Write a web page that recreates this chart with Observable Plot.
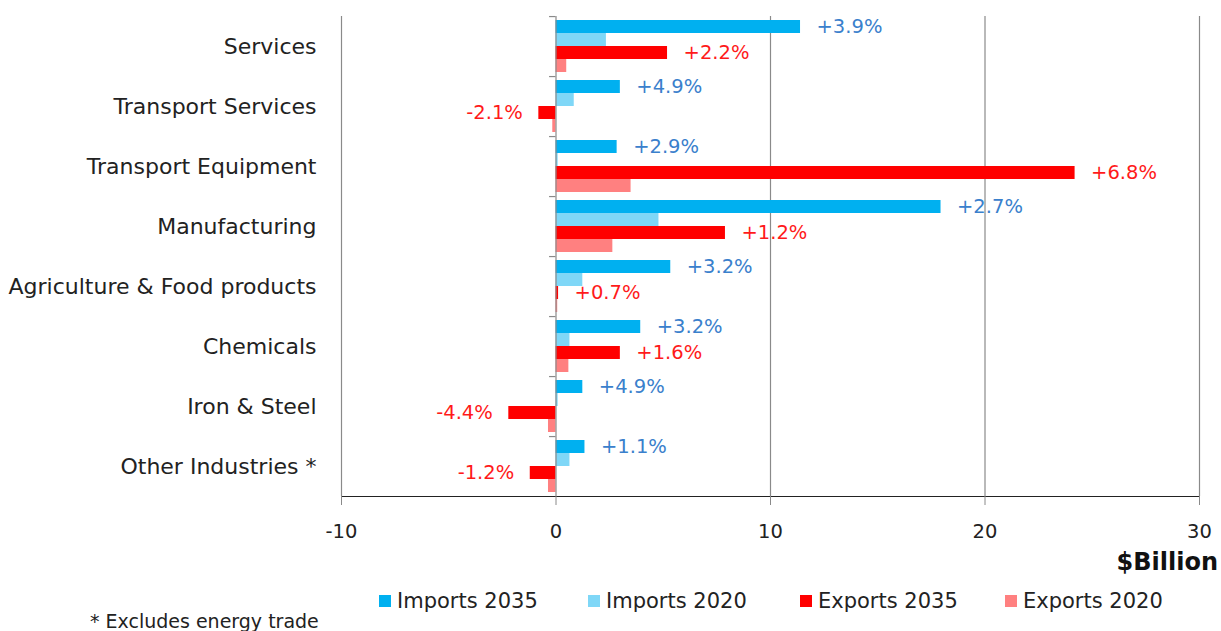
<!DOCTYPE html>
<html>
<head>
<meta charset="utf-8">
<script src="https://cdn.jsdelivr.net/npm/d3@7"></script>
<script src="https://cdn.jsdelivr.net/npm/@observablehq/plot@0.6"></script>
<style>
  body { margin: 0; background: #fff; font-family: "DejaVu Sans", sans-serif; }
  #wrap { position: relative; width: 1221px; height: 631px; }
  #unit { position: absolute; right: 3px; top: 548px; font-weight: bold; font-size: 24px; color: #111; }
  #legend { display: flex; margin-left: 379px; margin-top: 10px; height: 22px; align-items: center; font-size: 21px; color: #222; }
  .item { display: flex; align-items: center; }
  .sw { width: 12px; height: 12px; margin-right: 6px; flex: none; }
  #caption { margin-left: 90px; margin-top: 0px; height: 20px; line-height: 18px; font-size: 19px; color: #222; }
</style>
</head>
<body>
<div id="wrap">
  <div id="chart"></div>
  <div id="unit">$Billion</div>
  <div id="legend"></div>
  <div id="caption">* Excludes energy trade</div>
</div>
<script>
const categories = ["Services", "Transport Services", "Transport Equipment", "Manufacturing",
  "Agriculture & Food products", "Chemicals", "Iron & Steel", "Other Industries *"];
const seriesNames = ["Imports 2035", "Imports 2020", "Exports 2035", "Exports 2020"];
const seriesColors = ["#00B0F0", "#7FD7F7", "#FF0000", "#FF8080"];
const imports2035 = [11.4, 3.0, 2.85, 17.95, 5.35, 3.95, 1.25, 1.35];
const imports2020 = [2.35, 0.85, 0.1, 4.8, 1.25, 0.65, 0.1, 0.65];
const exports2035 = [5.2, -0.8, 24.2, 7.9, 0.12, 3.0, -2.2, -1.2];
const exports2020 = [0.5, -0.15, 3.5, 2.65, 0.08, 0.6, -0.35, -0.35];
const importGrowth = ["+3.9%", "+4.9%", "+2.9%", "+2.7%", "+3.2%", "+3.2%", "+4.9%", "+1.1%"];
const exportGrowth = ["+2.2%", "-2.1%", "+6.8%", "+1.2%", "+0.7%", "+1.6%", "-4.4%", "-1.2%"];
const xTicks = [-10, 0, 10, 20, 30];
const legendWidths = [209, 212, 205, 200];

const seriesValues = [imports2035, imports2020, exports2035, exports2020];
const rows = categories.flatMap((c, i) => seriesNames.map((s, j) => ({category: c, series: s, value: seriesValues[j][i]})));
const growthRows = categories.flatMap((c, i) => [
  {category: c, series: seriesNames[0], value: imports2035[i], label: importGrowth[i], kind: "imp"},
  {category: c, series: seriesNames[2], value: exports2035[i], label: exportGrowth[i], kind: "exp"}
]);

const marginTop = 16, marginBottom = 84, height = 580;
const facetH = (height - marginTop - marginBottom) / categories.length;
const padOuter = 0.3;
const step = facetH / (seriesNames.length + 2 * padOuter);
const tickDy = -(padOuter * step + step / 2);
const grid = "#8a8a8a";
const blueText = "#3A80CC", redText = "#FF1A1A";

const chart = Plot.plot({
  width: 1221,
  height,
  marginTop,
  marginBottom,
  marginLeft: 341,
  marginRight: 22,
  style: {fontFamily: "'DejaVu Sans', sans-serif", fontSize: "19.5px", color: "#222", background: "#fff"},
  x: {domain: [-10, 30], ticks: xTicks, tickSize: 9, tickPadding: 19, line: true, label: null, tickFormat: d => d},
  y: {domain: seriesNames, axis: null, paddingInner: 0, paddingOuter: padOuter},
  fy: {domain: categories, padding: 0, axis: null},
  color: {domain: seriesNames, range: seriesColors},
  marks: [
    Plot.axisFy({anchor: "left", tickSize: 0, tickPadding: 25, label: null, fontSize: 22}),
    Plot.ruleX([-10, 10, 20, 30], {stroke: grid, strokeWidth: 1.2}),
    Plot.barX(rows, {fy: "category", y: "series", x: "value", fill: "series"}),
    Plot.ruleX([0], {stroke: grid, strokeWidth: 1.2}),
    Plot.ruleY(categories, {fy: d => d, y: () => seriesNames[0], x1: -0.3, x2: 0, dy: tickDy, stroke: grid, strokeWidth: 1.2}),
    Plot.text(growthRows.filter(d => d.value >= 0), {fy: "category", y: "series", x: "value", text: "label",
      dx: 16, textAnchor: "start", fontSize: 19.5, fill: d => d.kind === "imp" ? blueText : redText}),
    Plot.text(growthRows.filter(d => d.value < 0), {fy: "category", y: "series", x: "value", text: "label",
      dx: -16, textAnchor: "end", fontSize: 19.5, fill: d => d.kind === "imp" ? blueText : redText})
  ]
});
chart.querySelectorAll("[aria-label='x-axis tick'] path, [aria-label='x-axis'] path").forEach(p => p.setAttribute("stroke", grid));
document.getElementById("chart").appendChild(chart);

const legend = document.getElementById("legend");
seriesNames.forEach((s, i) => {
  const it = document.createElement("div");
  it.className = "item";
  it.style.width = legendWidths[i] + "px";
  it.innerHTML = `<span class="sw" style="background:${seriesColors[i]}"></span><span>${s}</span>`;
  legend.appendChild(it);
});
</script>
</body>
</html>
